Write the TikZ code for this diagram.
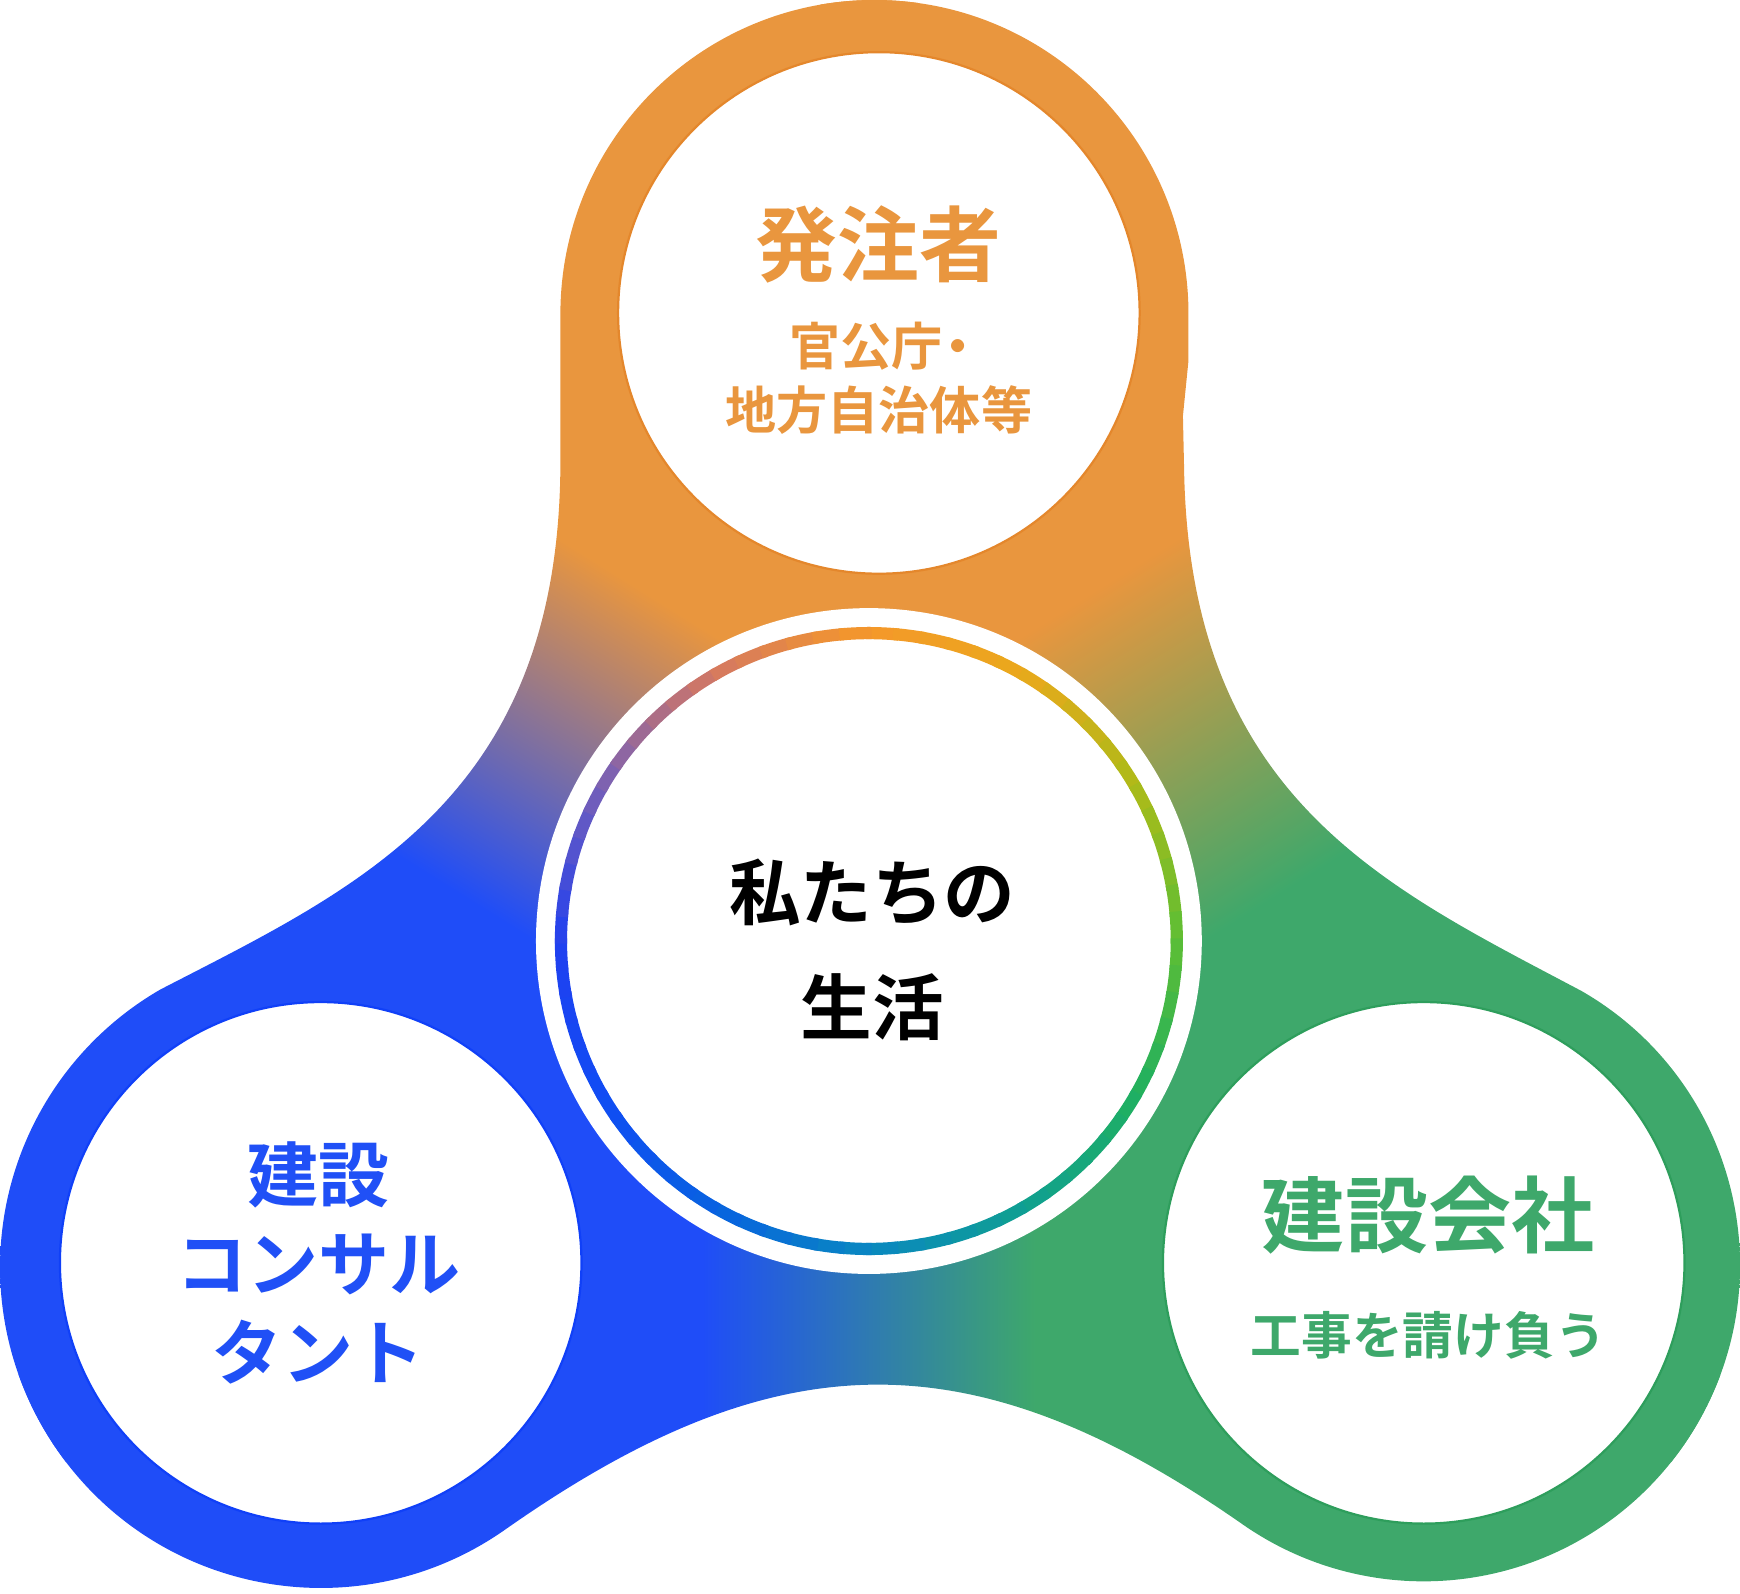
\documentclass[tikz,border=0pt]{standalone}
\usepackage{fontspec}
\newfontfamily\jp{Noto Sans CJK JP}[BoldFont={Noto Sans CJK JP Bold}]
\usetikzlibrary{calc}
\definecolor{corange}{HTML}{E9963E}
\definecolor{cblue}{HTML}{1F4DF8}
\definecolor{cgreen}{HTML}{3EA86B}
\definecolor{tblue}{HTML}{2050F6}
\definecolor{borange}{HTML}{E4872C}
\definecolor{bblue}{HTML}{1040F8}
\definecolor{bgreen}{HTML}{2E9E5C}
\definecolor{s0}{HTML}{F5982A}
\definecolor{s1}{HTML}{EAA81C}
\definecolor{s2}{HTML}{ADBB18}
\definecolor{s3}{HTML}{5EBE34}
\definecolor{s4}{HTML}{20B060}
\definecolor{s5}{HTML}{10A090}
\definecolor{s6}{HTML}{0A88C0}
\definecolor{s7}{HTML}{0862E0}
\definecolor{s8}{HTML}{104CF4}
\definecolor{s9}{HTML}{2040F0}
\definecolor{s10}{HTML}{7660B8}
\definecolor{s11}{HTML}{D47862}
\pgfdeclarehorizontalshading{shOB}{100bp}{color(0bp)=(cblue); color(46bp)=(cblue); color(54bp)=(corange); color(100bp)=(corange)}
\pgfdeclarehorizontalshading{shBG}{100bp}{color(0bp)=(cblue); color(46.25bp)=(cblue); color(53.75bp)=(cgreen); color(100bp)=(cgreen)}
\pgfdeclarehorizontalshading{shGO}{100bp}{color(0bp)=(corange); color(46bp)=(corange); color(54bp)=(cgreen); color(100bp)=(cgreen)}
\begin{document}
\begin{tikzpicture}[x=0.01cm,y=-0.01cm,
  lbl/.style={inner sep=0pt, align=center},
  lobeborder/.style={line width=0.02cm}]
\useasboundingbox (0,0) rectangle (1568,1436);
\coordinate (C) at (783,848);
\coordinate (T) at (792,282);
\coordinate (BL) at (289,1138);
\coordinate (BR) at (1283,1138);
% gradient trefoil
\begin{scope}
\clip (505,283) arc[start angle=180, end angle=360, radius=283]
  -- (1071,325) -- (1066,375) -- (1067,420)
  .. controls (1071,720) and (1250,800) .. (1425.5,893.2)
  arc[start angle=300, end angle=485, radius=285]
  .. controls (875,1203) and (699,1207) .. (454.8,1378.7)
  arc[start angle=55, end angle=240, radius=289]
  .. controls (322,800) and (503,720) .. (505,420) -- cycle;
 % orange-blue
 \begin{scope}
  \clip (C) -- ($(C)+(-87:3000)$) -- ($(C)+(-130:3000)$) -- ($(C)+(-170:3000)$) -- ($(C)+(-213:3000)$) -- cycle;
  \begin{scope}[transform canvas={shift={(C)}, rotate=58}]
   \shade[shading=shOB] (-1000,-1000) rectangle (1000,1000);
  \end{scope}
 \end{scope}
 % blue-green
 \begin{scope}
  \clip (C) -- ($(C)+(-207:3000)$) -- ($(C)+(-240:3000)$) -- ($(C)+(-270:3000)$) -- ($(C)+(-300:3000)$) -- ($(C)+(-333:3000)$) -- cycle;
  \begin{scope}[transform canvas={shift={(C)}}]
   \shade[shading=shBG] (-1000,-1000) rectangle (1000,1000);
  \end{scope}
 \end{scope}
 % green-orange
 \begin{scope}
  \clip (C) -- ($(C)+(33:3000)$) -- ($(C)+(0:3000)$) -- ($(C)+(-30:3000)$) -- ($(C)+(-60:3000)$) -- ($(C)+(-93:3000)$) -- cycle;
  \begin{scope}[transform canvas={shift={(C)}, rotate=-58}]
   \shade[shading=shGO] (-1000,-1000) rectangle (1000,1000);
  \end{scope}
 \end{scope}
\end{scope}
% white lobe circles
\filldraw[fill=white, draw=borange, lobeborder] (T) circle[radius=235];
\filldraw[fill=white, draw=bblue, lobeborder] (BL) circle[radius=235];
\filldraw[fill=white, draw=bgreen, lobeborder] (BR) circle[radius=235];
% central disk and ring
\fill[white] (C) circle[radius=300];
\foreach \k/\ca/\cb in {0/s0/s1,1/s1/s2,2/s2/s3,3/s3/s4,4/s4/s5,5/s5/s6,6/s6/s7,7/s7/s8,8/s8/s9,9/s9/s10,10/s10/s11,11/s11/s0}{
  \foreach \j in {0,...,5}{
    \pgfmathsetmacro{\aS}{-90+30*\k+5*\j-0.5}
    \pgfmathsetmacro{\aE}{-90+30*\k+5*\j+5.5}
    \pgfmathtruncatemacro{\pp}{100-(\j+0.5)*100/6}
    \draw[line width=0.11cm, color=\ca!\pp!\cb] ($(C)+(\aS:277.5)$) arc[start angle=\aS, end angle=\aE, radius=277.5];
  }
}
% texts
\node[lbl, text=corange, font=\jp\bfseries\fontsize{21}{25}\selectfont] (hatchu) at (792,220) {発注者};
\node[lbl, text=corange, font=\jp\bfseries\fontsize{13.1}{16.5}\selectfont] (kanko) at (792,341) {官公庁\kern-0.2em・\kern-0.3em\\地方自治体等};
\node[lbl, text=black, font=\jp\bfseries\fontsize{18.35}{29.3}\selectfont] (watashi) at (786,856) {私たちの\\生活};
\node[lbl, text=tblue, font=\jp\bfseries\fontsize{18.2}{22.76}\selectfont] (consul) at (287,1138) {建設\\コンサル\\タント};
\node[lbl, text=cgreen, font=\jp\bfseries\fontsize{21.3}{25}\selectfont] (kaisha) at (1287,1095) {建設会社};
\node[lbl, text=cgreen, font=\jp\bfseries\fontsize{13}{16}\selectfont] (ukeou) at (1287,1203) {工事を請け負う};
\end{tikzpicture}
\end{document}
